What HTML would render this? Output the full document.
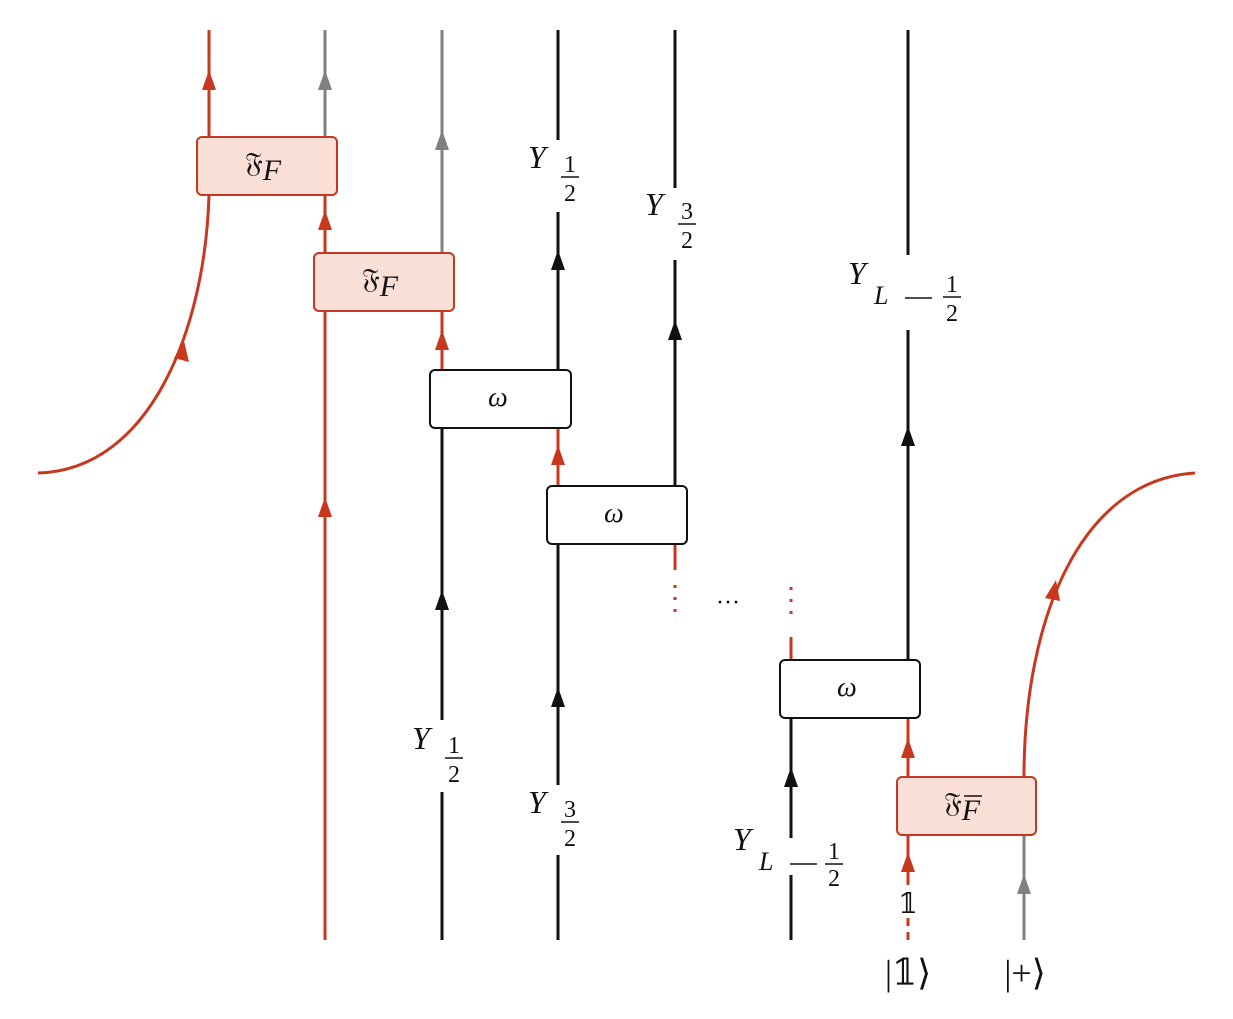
<!DOCTYPE html>
<html><head><meta charset="utf-8"><style>
html,body{margin:0;padding:0;background:#fff;}
svg{display:block}
text{font-family:"Liberation Serif","DejaVu Serif",serif;fill:#111;}
</style></head><body>
<svg width="1233" height="1019" viewBox="0 0 1233 1019" xmlns="http://www.w3.org/2000/svg">
<g fill="none" stroke-width="3">
<g stroke="#c8371e">
<line x1="209" y1="30" x2="209" y2="137"/>
<path d="M209 195 C205 330 150 470 38 473"/>
<line x1="325" y1="195" x2="325" y2="940"/>
<line x1="442" y1="311" x2="442" y2="370"/>
<line x1="558" y1="428" x2="558" y2="486"/>
<line x1="675" y1="544" x2="675" y2="570"/>
<line x1="675" y1="585" x2="675" y2="620" stroke-dasharray="3 9"/>
<line x1="791" y1="587" x2="791" y2="620" stroke-dasharray="3 9"/>
<line x1="791" y1="637" x2="791" y2="660"/>
<line x1="908" y1="718" x2="908" y2="777"/>
<line x1="908" y1="835" x2="908" y2="885"/>
<line x1="908" y1="918" x2="908" y2="940" stroke-dasharray="8 6"/>
<path d="M1024 777 C1024 620 1080 480 1195 473"/>
</g>
<g stroke="#808080">
<line x1="325" y1="30" x2="325" y2="137"/>
<line x1="442" y1="30" x2="442" y2="253"/>
<line x1="1024" y1="835" x2="1024" y2="940"/>
</g>
<g stroke="#111">
<line x1="442" y1="428" x2="442" y2="720"/>
<line x1="442" y1="792" x2="442" y2="940"/>
<line x1="558" y1="30" x2="558" y2="140"/>
<line x1="558" y1="212" x2="558" y2="370"/>
<line x1="558" y1="544" x2="558" y2="785"/>
<line x1="558" y1="855" x2="558" y2="940"/>
<line x1="675" y1="30" x2="675" y2="188"/>
<line x1="675" y1="260" x2="675" y2="486"/>
<line x1="791" y1="718" x2="791" y2="838"/>
<line x1="791" y1="875" x2="791" y2="940"/>
<line x1="908" y1="30" x2="908" y2="255"/>
<line x1="908" y1="330" x2="908" y2="660"/>
</g>
</g>
<g>
<g fill="#c8371e">
<polygon points="209,70 202,90 216,90"/>
<polygon points="325,210 318,230 332,230"/>
<polygon points="442,330 435,350 449,350"/>
<polygon points="325,497 318,517 332,517"/>
<polygon points="558,445 551,465 565,465"/>
<polygon points="908,738 901,758 915,758"/>
<polygon points="908,852 901,872 915,872"/>
<polygon points="184,341 174,358 189,362"/>
<polygon points="1056,580 1045,598 1060,601"/>
</g>
<g fill="#808080">
<polygon points="325,70 318,90 332,90"/>
<polygon points="442,130 435,150 449,150"/>
<polygon points="1024,874 1017,894 1031,894"/>
</g>
<g fill="#111">
<polygon points="558,250 551,270 565,270"/>
<polygon points="675,320 668,340 682,340"/>
<polygon points="908,426 901,446 915,446"/>
<polygon points="442,590 435,610 449,610"/>
<polygon points="558,687 551,707 565,707"/>
<polygon points="791,767 784,787 798,787"/>
</g>
</g>
<g stroke-width="2">
<rect x="197" y="137" width="140" height="58" rx="5" fill="#fbe0d8" stroke="#c8371e"/>
<rect x="314" y="253" width="140" height="58" rx="5" fill="#fbe0d8" stroke="#c8371e"/>
<rect x="897" y="777" width="139" height="58" rx="5" fill="#fbe0d8" stroke="#c8371e"/>
<rect x="430" y="370" width="141" height="58" rx="5" fill="#fff" stroke="#111"/>
<rect x="547" y="486" width="140" height="58" rx="5" fill="#fff" stroke="#111"/>
<rect x="780" y="660" width="140" height="58" rx="5" fill="#fff" stroke="#111"/>
</g>
<g font-size="28">
<text x="245" y="172">𝔉<tspan font-style="italic" font-size="30" dy="8">F</tspan></text>
<text x="362" y="288">𝔉<tspan font-style="italic" font-size="30" dy="8">F</tspan></text>
<text x="944" y="812">𝔉<tspan font-style="italic" font-size="30" dy="8">F</tspan></text>
<text x="488" y="406" font-style="italic">ω</text>
<text x="604" y="522" font-style="italic">ω</text>
<text x="837" y="696" font-style="italic">ω</text>
</g>
<line x1="964" y1="796" x2="982" y2="796" stroke="#111" stroke-width="1.5"/>
<g font-size="32" font-style="italic">
<text x="528" y="168">Y</text>
<text x="645" y="215">Y</text>
<text x="848" y="284">Y</text><text x="874" y="304" font-size="26">L</text>
<text x="412" y="749">Y</text>
<text x="528" y="813">Y</text>
<text x="733" y="850">Y</text><text x="759" y="870" font-size="26">L</text>
</g>
<g font-size="24" text-anchor="middle">
<text x="570" y="172">1</text><line x1="561" y1="177" x2="579" y2="177" stroke="#111" stroke-width="1.5"/><text x="570" y="201">2</text>
<text x="687" y="219">3</text><line x1="678" y1="224" x2="696" y2="224" stroke="#111" stroke-width="1.5"/><text x="687" y="248">2</text>
<text x="952" y="292">1</text><line x1="943" y1="297" x2="961" y2="297" stroke="#111" stroke-width="1.5"/><text x="952" y="321">2</text>
<line x1="905" y1="298" x2="932" y2="298" stroke="#111" stroke-width="1.5"/>
<text x="454" y="753">1</text><line x1="445" y1="758" x2="463" y2="758" stroke="#111" stroke-width="1.5"/><text x="454" y="782">2</text>
<text x="570" y="817">3</text><line x1="561" y1="822" x2="579" y2="822" stroke="#111" stroke-width="1.5"/><text x="570" y="846">2</text>
<text x="834" y="859">1</text><line x1="825" y1="864" x2="843" y2="864" stroke="#111" stroke-width="1.5"/><text x="834" y="886">2</text>
<line x1="790" y1="864" x2="817" y2="864" stroke="#111" stroke-width="1.5"/>
</g>
<text x="908" y="913" font-size="28" text-anchor="middle">𝟙</text>
<text x="716" y="610" font-size="24">···</text>
<text x="908" y="985" font-size="36" text-anchor="middle">|𝟙⟩</text>
<text x="1025" y="985" font-size="36" text-anchor="middle">|+⟩</text>
</svg>
</body></html>
